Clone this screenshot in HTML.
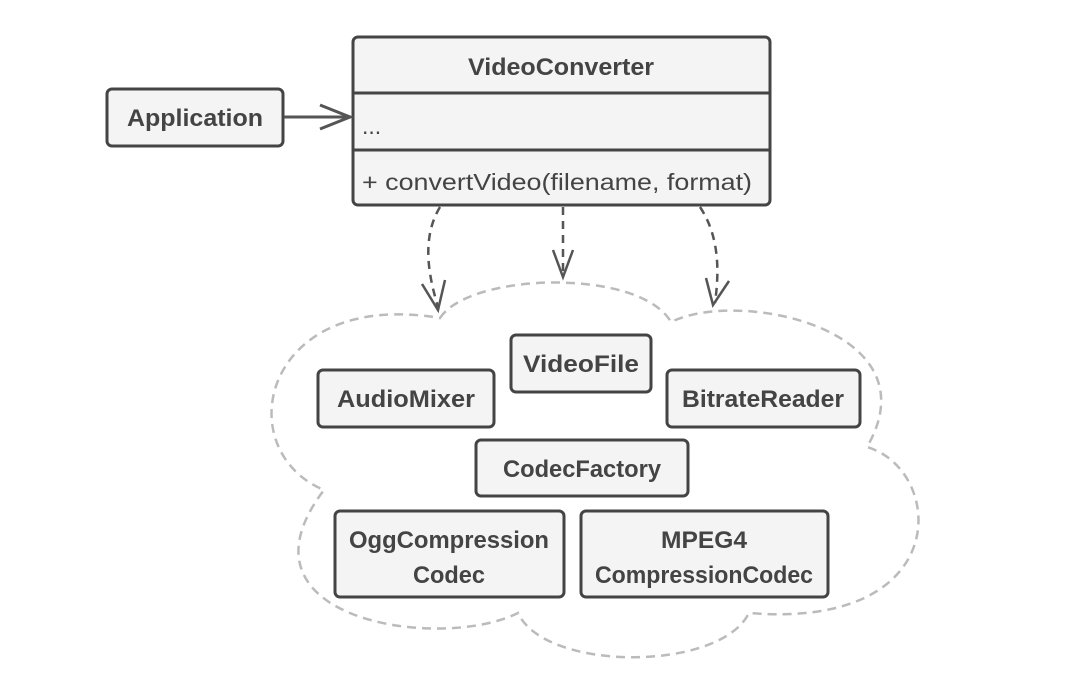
<!DOCTYPE html>
<html><head><meta charset="utf-8"><style>
html,body{margin:0;padding:0;background:#fff;}
svg{display:block;}
text{font-family:"Liberation Sans",sans-serif;fill:#444;}
.b{font-weight:bold;font-size:24px;}
.n{font-size:23px;}
.box{fill:#f4f4f4;stroke:#444;stroke-width:3;}
</style></head><body>
<svg width="1089" height="688" viewBox="0 0 1089 688" xmlns="http://www.w3.org/2000/svg">
<path d="M440,318 C470,272 640,268 671,322 C740,288 935,330 867,447 C945,470 955,630 749,613 C720,672 545,672 518,613 C440,652 225,620 324,490 C228,450 262,288 440,318 Z" fill="none" stroke="#bbb" stroke-width="2.5" stroke-dasharray="9 6"/>
<rect class="box" x="353" y="37" width="417" height="168" rx="5"/>
<line x1="353" y1="93" x2="770" y2="93" stroke="#444" stroke-width="3"/>
<line x1="353" y1="150" x2="770" y2="150" stroke="#444" stroke-width="3"/>
<text class="b" x="561" y="75" text-anchor="middle" textLength="186" lengthAdjust="spacingAndGlyphs">VideoConverter</text>
<text class="n" x="362" y="134">...</text>
<text class="n" x="362" y="190" textLength="390" lengthAdjust="spacingAndGlyphs">+ convertVideo(filename, format)</text>
<rect class="box" x="107" y="89" width="176" height="57" rx="5"/>
<text class="b" x="195" y="126" text-anchor="middle" textLength="136" lengthAdjust="spacingAndGlyphs">Application</text>
<line x1="284" y1="117" x2="351" y2="117" stroke="#555" stroke-width="3"/>
<polyline points="320,105 350,117 320,129" fill="none" stroke="#555" stroke-width="3"/>
<g fill="none" stroke="#555" stroke-width="2.5">
<path d="M440,207 C420,240 430,280 438,307" stroke-dasharray="8 6"/>
<polyline points="422,284 438,310 445,280"/>
<path d="M563,207 L563,275" stroke-dasharray="8 6"/>
<polyline points="553,250 563,277 573,250"/>
<path d="M700,207 C722,240 718,280 715,303" stroke-dasharray="8 6"/>
<polyline points="706,278 713,305 729,281"/>
</g>
<rect class="box" x="511" y="335" width="140" height="57" rx="5"/>
<text class="b" x="581" y="372" text-anchor="middle" textLength="116" lengthAdjust="spacingAndGlyphs">VideoFile</text>
<rect class="box" x="318" y="370" width="176" height="57" rx="5"/>
<text class="b" x="406" y="407" text-anchor="middle" textLength="138" lengthAdjust="spacingAndGlyphs">AudioMixer</text>
<rect class="box" x="667" y="370" width="193" height="57" rx="5"/>
<text class="b" x="763" y="407" text-anchor="middle" textLength="162" lengthAdjust="spacingAndGlyphs">BitrateReader</text>
<rect class="box" x="476" y="440" width="212" height="56" rx="5"/>
<text class="b" x="582" y="477" text-anchor="middle" textLength="158" lengthAdjust="spacingAndGlyphs">CodecFactory</text>
<rect class="box" x="335" y="511" width="229" height="86" rx="5"/>
<text class="b" x="449" y="548" text-anchor="middle" textLength="200" lengthAdjust="spacingAndGlyphs">OggCompression</text>
<text class="b" x="449" y="583" text-anchor="middle" textLength="72" lengthAdjust="spacingAndGlyphs">Codec</text>
<rect class="box" x="581" y="511" width="247" height="86" rx="5"/>
<text class="b" x="704" y="548" text-anchor="middle" textLength="86" lengthAdjust="spacingAndGlyphs">MPEG4</text>
<text class="b" x="704" y="583" text-anchor="middle" textLength="218" lengthAdjust="spacingAndGlyphs">CompressionCodec</text>
</svg>
</body></html>
